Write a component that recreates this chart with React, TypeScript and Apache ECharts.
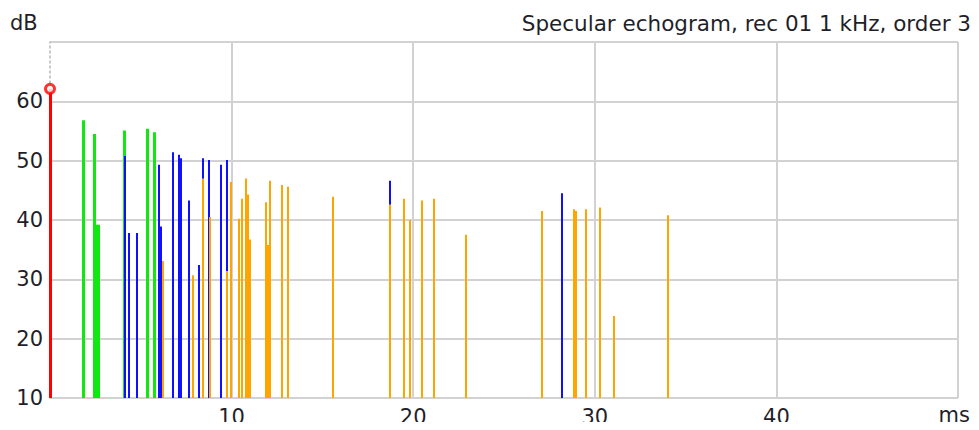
import React, { useEffect, useRef } from "react";
import * as echarts from "echarts";

// Arrival times (ms) and levels (dB) of the specular reflections
const directTimes = [0];
const directLevels = [62.1];

const order1Times = [1.83, 2.42, 2.55, 2.67, 4.07, 5.35, 5.71];
const order1Levels = [56.8, 54.5, 39.2, 39.2, 55.1, 55.4, 54.8];

const order2Times = [4.14, 4.36, 4.78, 5.99, 6.1, 6.76, 7.09, 7.2, 7.64, 8.19, 8.41, 8.75, 9.4, 9.74, 18.74, 28.2];
const order2Levels = [50.8, 37.8, 37.8, 49.3, 38.9, 51.4, 51.0, 50.4, 43.3, 32.4, 50.4, 50.1, 49.3, 50.1, 46.6, 44.5];

const order3Times = [
  6.23, 7.86, 8.41, 8.83, 9.74, 9.95, 10.4, 10.6, 10.82, 10.92, 11.04, 11.92, 12.0, 12.08, 12.14,
  12.8, 13.13, 15.58, 18.74, 19.52, 19.85, 20.49, 21.17, 22.93, 27.1, 28.83, 28.95, 29.52, 30.31,
  31.06, 34.05,
];
const order3Levels = [
  33.1, 30.7, 47.0, 40.5, 31.4, 46.4, 40.2, 43.6, 47.0, 44.3, 36.7, 43.0, 35.8, 35.8, 46.6,
  45.9, 45.6, 43.9, 42.6, 43.6, 40.0, 43.3, 43.6, 37.5, 41.5, 41.8, 41.5, 41.8, 42.1,
  23.8, 40.8,
];

const xTicks = [0, 10, 20, 30, 40, 50];
const yTicks = [10, 20, 30, 40, 50, 60, 70];

const title = "Specular echogram, rec 01 1 kHz, order 3";
const yUnit = "dB";
const xUnit = "ms";

const FONT = "DejaVu Sans";
const TEXT_COLOR = "#1f1f2a";
const GRID_COLOR = "#d2d2d2";
const FLOOR = yTicks[0];

function stems(name: string, times: number[], levels: number[], color: string, width: number) {
  return {
    name,
    type: "custom",
    clip: false,
    data: times.map((t, i) => [t, levels[i]]),
    encode: { x: 0, y: 1 },
    renderItem: (_params: any, api: any) => {
      const top = api.coord([api.value(0), api.value(1)]);
      const base = api.coord([api.value(0), FLOOR]);
      const x = Math.round(top[0]) + (width % 2 ? 0.5 : 0);
      return {
        type: "line",
        shape: { x1: x, y1: top[1], x2: x, y2: base[1] },
        style: { stroke: color, lineWidth: width },
      };
    },
  };
}

export default function App() {
  const ref = useRef<HTMLDivElement>(null);

  useEffect(() => {
    if (!ref.current) return;
    const chart = echarts.init(ref.current, undefined, { renderer: "svg" });
    chart.setOption({
      animation: false,
      backgroundColor: "#ffffff",
      grid: { left: 50, right: 21, top: 42, bottom: 32, containLabel: false },
      xAxis: {
        type: "value",
        min: xTicks[0],
        max: xTicks[xTicks.length - 1],
        interval: 10,
        axisLine: { show: false },
        axisTick: { show: false },
        splitLine: {
          show: true,
          showMinLine: false,
          lineStyle: { color: GRID_COLOR, width: 2 },
        },
        axisLabel: {
          margin: 8,
          fontFamily: FONT,
          fontSize: 21,
          color: TEXT_COLOR,
          formatter: (v: number) => (v === xTicks[0] || v === xTicks[xTicks.length - 1] ? "" : String(v)),
        },
      },
      yAxis: {
        type: "value",
        min: yTicks[0],
        max: yTicks[yTicks.length - 1],
        interval: 10,
        axisLine: {
          show: true,
          lineStyle: { color: "#b8b8b8", width: 1.5, type: [2, 3] },
        },
        axisTick: { show: false },
        splitLine: { show: true, lineStyle: { color: GRID_COLOR, width: 2 } },
        axisLabel: {
          margin: 7,
          fontFamily: FONT,
          fontSize: 21,
          color: TEXT_COLOR,
          formatter: (v: number) => (v === yTicks[yTicks.length - 1] ? "" : String(v)),
        },
      },
      graphic: [
        {
          type: "text",
          left: 10,
          top: 12,
          style: { text: yUnit, font: `21px "${FONT}"`, fill: TEXT_COLOR },
        },
        {
          type: "text",
          right: 8,
          top: 12,
          style: { text: title, font: `21.5px "${FONT}"`, fill: TEXT_COLOR },
        },
        {
          type: "text",
          right: 9,
          top: 404,
          style: { text: xUnit, font: `21px "${FONT}"`, fill: TEXT_COLOR },
        },
      ],
      series: [
        stems("Direct sound", directTimes, directLevels, "#ff0000", 3),
        stems("Order 1", order1Times, order1Levels, "#11e811", 3),
        stems("Order 2", order2Times, order2Levels, "#1010ff", 2),
        stems("Order 3", order3Times, order3Levels, "#ffa500", 2),
        {
          name: "Direct peak",
          type: "scatter",
          clip: false,
          z: 5,
          symbol: "circle",
          symbolSize: 9,
          data: directTimes.map((t, i) => [t, directLevels[i]]),
          itemStyle: { color: "#ffffff", borderColor: "#ff0000", borderWidth: 3 },
        },
      ],
    });
    return () => chart.dispose();
  }, []);

  return <div ref={ref} style={{ width: 979, height: 430, margin: -8 }} />;
}
